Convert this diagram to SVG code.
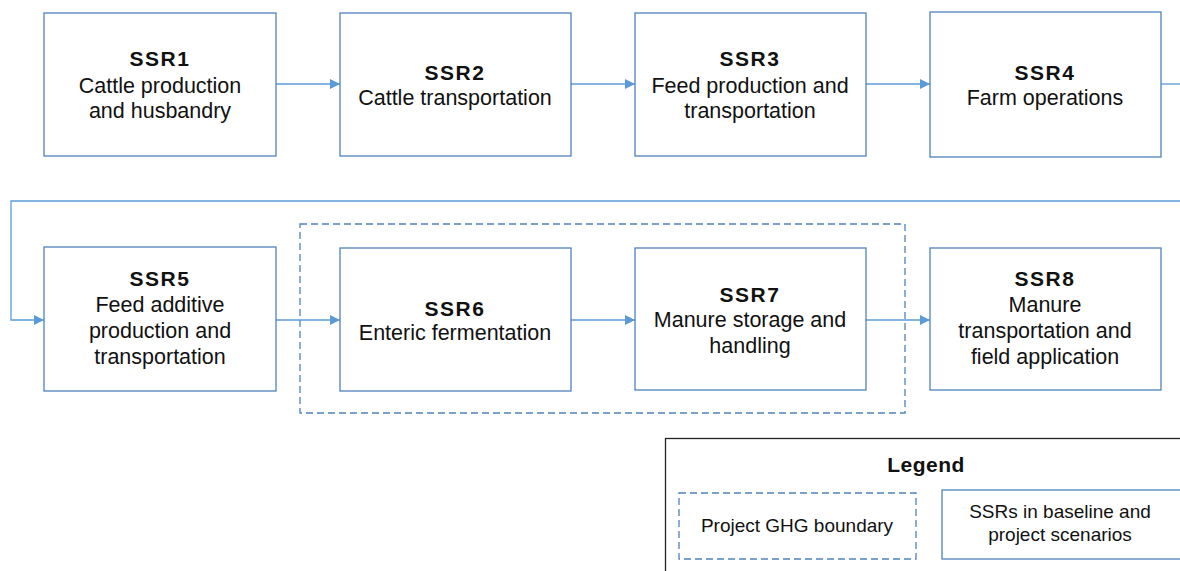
<svg xmlns="http://www.w3.org/2000/svg" width="1180" height="571" viewBox="0 0 1180 571">
<defs>
<style>
.box{fill:#fff;stroke:#4f81bd;stroke-width:1.3}
.dash{fill:none;stroke:#4f81bd;stroke-width:1.3;stroke-dasharray:7,4}
.conn{fill:none;stroke:#5b9bd5;stroke-width:1.3}
text{font-family:"Liberation Sans",Arial,sans-serif;fill:#111;text-anchor:middle}
.t{font-size:21.5px}
.b{font-size:21px;font-weight:bold;letter-spacing:1.5px}
.lb{font-size:21px;font-weight:bold;letter-spacing:0.5px}
.lt{font-size:19px}
</style>
<marker id="ah" viewBox="0 0 10 10" refX="10" refY="5" markerWidth="10" markerHeight="10" markerUnits="userSpaceOnUse" orient="auto">
<path d="M0,0 L10,5 L0,10 z" fill="#5b9bd5"/>
</marker>
</defs>
<rect width="1180" height="571" fill="#fff"/>
<g id="boundary"><rect class="dash" x="300" y="224" width="605" height="189"/></g>
<g id="connectors">
<line class="conn" x1="276" y1="84" x2="340" y2="84" marker-end="url(#ah)"/>
<line class="conn" x1="571" y1="84" x2="635" y2="84" marker-end="url(#ah)"/>
<line class="conn" x1="866" y1="84" x2="930" y2="84" marker-end="url(#ah)"/>
<line class="conn" x1="1161" y1="84" x2="1180" y2="84"/>
<polyline class="conn" points="1180,201 11,201 11,320 44,320" marker-end="url(#ah)"/>
<line class="conn" x1="276" y1="320" x2="340" y2="320" marker-end="url(#ah)"/>
<line class="conn" x1="571" y1="320" x2="635" y2="320" marker-end="url(#ah)"/>
<line class="conn" x1="866" y1="320" x2="930" y2="320" marker-end="url(#ah)"/>
</g>
<g id="ssr1"><rect class="box" x="44" y="13" width="232" height="143"/>
<text class="b" x="160" y="66">SSR1</text><text class="t" x="160" y="93">Cattle production</text><text class="t" x="160" y="118">and husbandry</text></g>
<g id="ssr2"><rect class="box" x="340" y="13" width="231" height="143"/>
<text class="b" x="455" y="80">SSR2</text><text class="t" x="455" y="105">Cattle transportation</text></g>
<g id="ssr3"><rect class="box" x="635" y="13" width="231" height="143"/>
<text class="b" x="750" y="66">SSR3</text><text class="t" x="750" y="93">Feed production and</text><text class="t" x="750" y="118">transportation</text></g>
<g id="ssr4"><rect class="box" x="930" y="12" width="231" height="145"/>
<text class="b" x="1045" y="80">SSR4</text><text class="t" x="1045" y="105">Farm operations</text></g>
<g id="ssr5"><rect class="box" x="44" y="247" width="232" height="144"/>
<text class="b" x="160" y="286">SSR5</text><text class="t" x="160" y="312">Feed additive</text><text class="t" x="160" y="338">production and</text><text class="t" x="160" y="364">transportation</text></g>
<g id="ssr6"><rect class="box" x="340" y="248" width="231" height="143"/>
<text class="b" x="455" y="316">SSR6</text><text class="t" x="455" y="340">Enteric fermentation</text></g>
<g id="ssr7"><rect class="box" x="635" y="248" width="231" height="142"/>
<text class="b" x="750" y="302">SSR7</text><text class="t" x="750" y="327">Manure storage and</text><text class="t" x="750" y="353">handling</text></g>
<g id="ssr8"><rect class="box" x="930" y="248" width="231" height="142"/>
<text class="b" x="1045" y="286">SSR8</text><text class="t" x="1045" y="312">Manure</text><text class="t" x="1045" y="338">transportation and</text><text class="t" x="1045" y="364">field application</text></g>
<g id="legend">
<rect x="665.5" y="438.5" width="530" height="150" fill="#fff" stroke="#222" stroke-width="1.3"/>
<text class="lb" x="926" y="472">Legend</text>
<rect class="dash" x="679" y="493" width="237" height="66"/>
<text class="lt" x="797" y="532">Project GHG boundary</text>
<rect class="box" x="942" y="490" width="250" height="69"/>
<text class="lt" x="1060" y="518">SSRs in baseline and</text>
<text class="lt" x="1060" y="541">project scenarios</text>
</g>
</svg>
